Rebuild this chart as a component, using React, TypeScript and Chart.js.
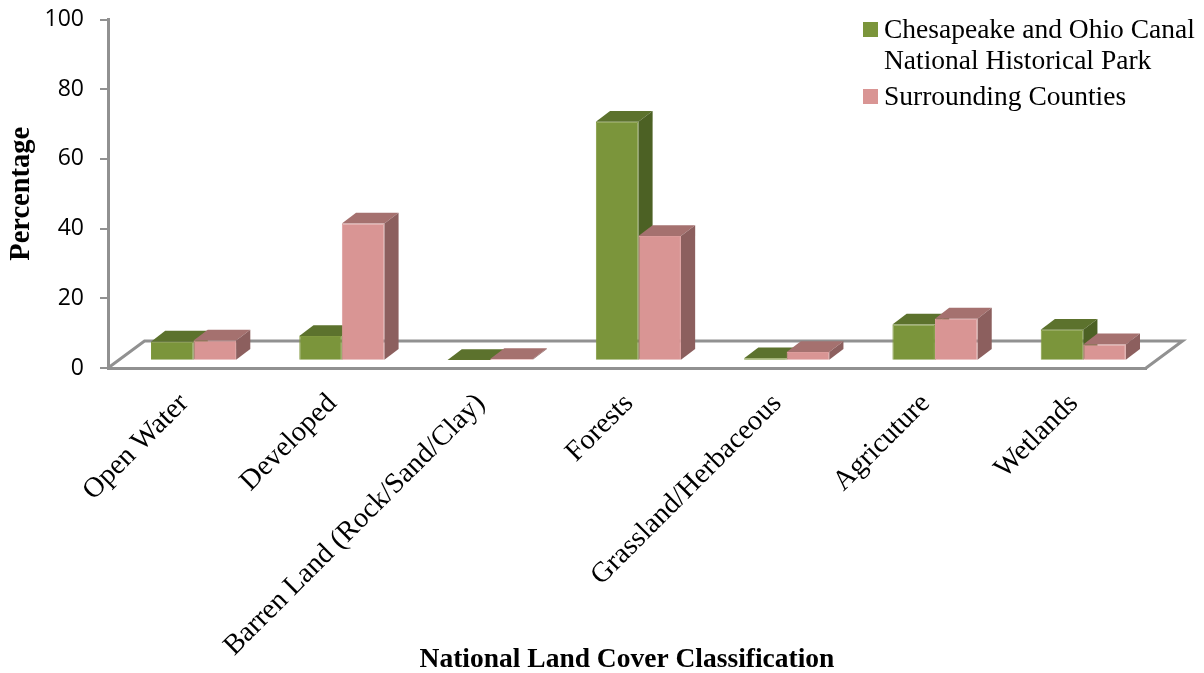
import React, { useEffect, useRef } from "react";
import { Chart, registerables } from "chart.js";

Chart.register(...registerables);

const categories = [
  "Open Water",
  "Developed",
  "Barren Land (Rock/Sand/Clay)",
  "Forests",
  "Grassland/Herbaceous",
  "Agricuture",
  "Wetlands",
];
const parkLabel = ["Chesapeake and Ohio Canal", "National Historical Park"];
const countyLabel = ["Surrounding Counties"];
const parkValues = [5.5, 7.1, 0.2, 68.6, 0.7, 10.4, 8.9];
const countyValues = [5.8, 39.4, 0.5, 35.8, 2.5, 12.1, 4.7];
const yTicks = [0, 20, 40, 60, 80, 100];
const xTitle = "National Land Cover Classification";
const yTitle = "Percentage";

const SERIF = "'Liberation Serif', serif";
const SANS = "'Open Sans', sans-serif";
const AXIS_COLOR = "#919191";

// Per dataset shades for the box faces: front, top, right side.
const faces = [
  { front: "#7b953b", top: "#5c722d", side: "#4c6124", edge: "#81993f" },
  { front: "#d99594", top: "#a5716f", side: "#8c5f5e", edge: "#dc9c9b" },
];

// Bars stand part way into the floor; this is their shift from the axis plane.
const BAR_SHIFT = { x: 11.4, y: -7.2 };
const BAR_DEPTH = { x: 14.2, y: -10.8 };
const FLOOR_DEPTH = { x: 36.5, y: -27 };

function drawBoxFaces(ctx: CanvasRenderingContext2D, bars: any[], shade: (typeof faces)[number]) {
  for (const bar of bars) {
    const half = bar.width / 2;
    const l = bar.x - half;
    const r = bar.x + half;
    const t = bar.y;
    const b = bar.base;
    ctx.fillStyle = shade.top;
    ctx.beginPath();
    ctx.moveTo(l, t);
    ctx.lineTo(l + BAR_DEPTH.x, t + BAR_DEPTH.y);
    ctx.lineTo(r + BAR_DEPTH.x, t + BAR_DEPTH.y);
    ctx.lineTo(r, t);
    ctx.closePath();
    ctx.fill();
    ctx.fillStyle = shade.side;
    ctx.beginPath();
    ctx.moveTo(r, t);
    ctx.lineTo(r + BAR_DEPTH.x, t + BAR_DEPTH.y);
    ctx.lineTo(r + BAR_DEPTH.x, b + BAR_DEPTH.y);
    ctx.lineTo(r, b);
    ctx.closePath();
    ctx.fill();
  }
}

const depthBars = {
  id: "depthBars",
  beforeDatasetsDraw(chart: any) {
    const { ctx, chartArea: a } = chart;
    ctx.save();
    ctx.strokeStyle = AXIS_COLOR;
    ctx.lineWidth = 3;
    ctx.beginPath();
    ctx.moveTo(a.left, a.bottom);
    ctx.lineTo(a.left + FLOOR_DEPTH.x, a.bottom + FLOOR_DEPTH.y);
    ctx.lineTo(a.right + FLOOR_DEPTH.x, a.bottom + FLOOR_DEPTH.y);
    ctx.lineTo(a.right, a.bottom);
    ctx.stroke();
    ctx.restore();
    // The first series' top and side faces sit behind everything the second series draws.
    ctx.save();
    ctx.translate(BAR_SHIFT.x, BAR_SHIFT.y);
    drawBoxFaces(ctx, chart.getDatasetMeta(0).data, faces[0]);
    ctx.restore();
  },
  beforeDatasetDraw(chart: any, args: any) {
    const { ctx } = chart;
    ctx.save();
    ctx.translate(BAR_SHIFT.x, BAR_SHIFT.y);
    if (args.index === 1) drawBoxFaces(ctx, args.meta.data, faces[1]);
  },
  afterDatasetDraw(chart: any) {
    chart.ctx.restore();
  },
  afterDraw(chart: any) {
    // Legend block in the upper right corner, one swatch per series.
    const { ctx } = chart;
    ctx.save();
    ctx.font = `27.5px ${SERIF}`;
    ctx.textBaseline = "alphabetic";
    ctx.textAlign = "left";
    const rows = [
      { lines: parkLabel, color: faces[0].front, swatchY: 22, firstLine: 38 },
      { lines: countyLabel, color: faces[1].front, swatchY: 89, firstLine: 105 },
    ];
    for (const row of rows) {
      ctx.fillStyle = row.color;
      ctx.fillRect(863, row.swatchY, 15, 15);
      ctx.fillStyle = "#000";
      row.lines.forEach((line, i) => ctx.fillText(line, 884, row.firstLine + i * 31));
    }
    ctx.restore();
  },
};

export default function App() {
  const ref = useRef<HTMLCanvasElement>(null);
  useEffect(() => {
    document.body.style.margin = "0";
    const chart = new Chart(ref.current!, {
      type: "bar",
      data: {
        labels: categories,
        datasets: [
          {
            label: parkLabel.join(" "),
            data: parkValues,
            backgroundColor: faces[0].front,
            borderColor: faces[0].edge,
            borderWidth: 1,
            clip: false,
            categoryPercentage: 0.574,
            barPercentage: 1,
          },
          {
            label: countyLabel[0],
            data: countyValues,
            backgroundColor: faces[1].front,
            borderColor: faces[1].edge,
            borderWidth: 1,
            clip: false,
            categoryPercentage: 0.574,
            barPercentage: 1,
          },
        ],
      },
      plugins: [depthBars],
      options: {
        responsive: false,
        animation: false,
        layout: { padding: { left: 0, top: 19.5, right: 58, bottom: 0 } },
        plugins: { legend: { display: false }, tooltip: { enabled: false } },
        scales: {
          x: {
            grid: { display: false },
            border: { color: AXIS_COLOR, width: 3 },
            afterFit: (s: any) => {
              s.height = 305;
              s.paddingLeft = 0;
              s.paddingRight = 0;
            },
            ticks: {
              minRotation: 45,
              maxRotation: 45,
              autoSkip: false,
              color: "#000",
              padding: 11,
              labelOffset: 2,
              font: { family: SERIF, size: 28.5 },
            },
            title: {
              display: true,
              text: xTitle,
              color: "#000",
              font: { family: SERIF, size: 27.5, weight: "bold" },
              padding: { top: 0, bottom: -3 },
            },
          },
          y: {
            min: 0,
            max: 100,
            afterFit: (s: any) => {
              s.width = 108;
              s.paddingTop = 0;
              s.paddingBottom = 0;
            },
            afterBuildTicks: (s: any) => {
              s.ticks = yTicks.map((value) => ({ value }));
            },
            grid: {
              drawOnChartArea: false,
              drawTicks: true,
              tickLength: 8,
              color: AXIS_COLOR,
              lineWidth: 2,
            },
            border: { color: AXIS_COLOR, width: 3 },
            ticks: {
              color: "#000",
              padding: 16,
              font: { family: SANS, size: 23 },
            },
            title: {
              display: true,
              text: yTitle,
              color: "#000",
              font: { family: SERIF, size: 28.5, weight: "bold" },
              padding: { top: 5, bottom: 0 },
            },
          },
        },
      },
    });
    return () => chart.destroy();
  }, []);
  return (
    <canvas
      ref={ref}
      width={1204}
      height={673}
      style={{ display: "block", width: 1204, height: 673 }}
    />
  );
}
